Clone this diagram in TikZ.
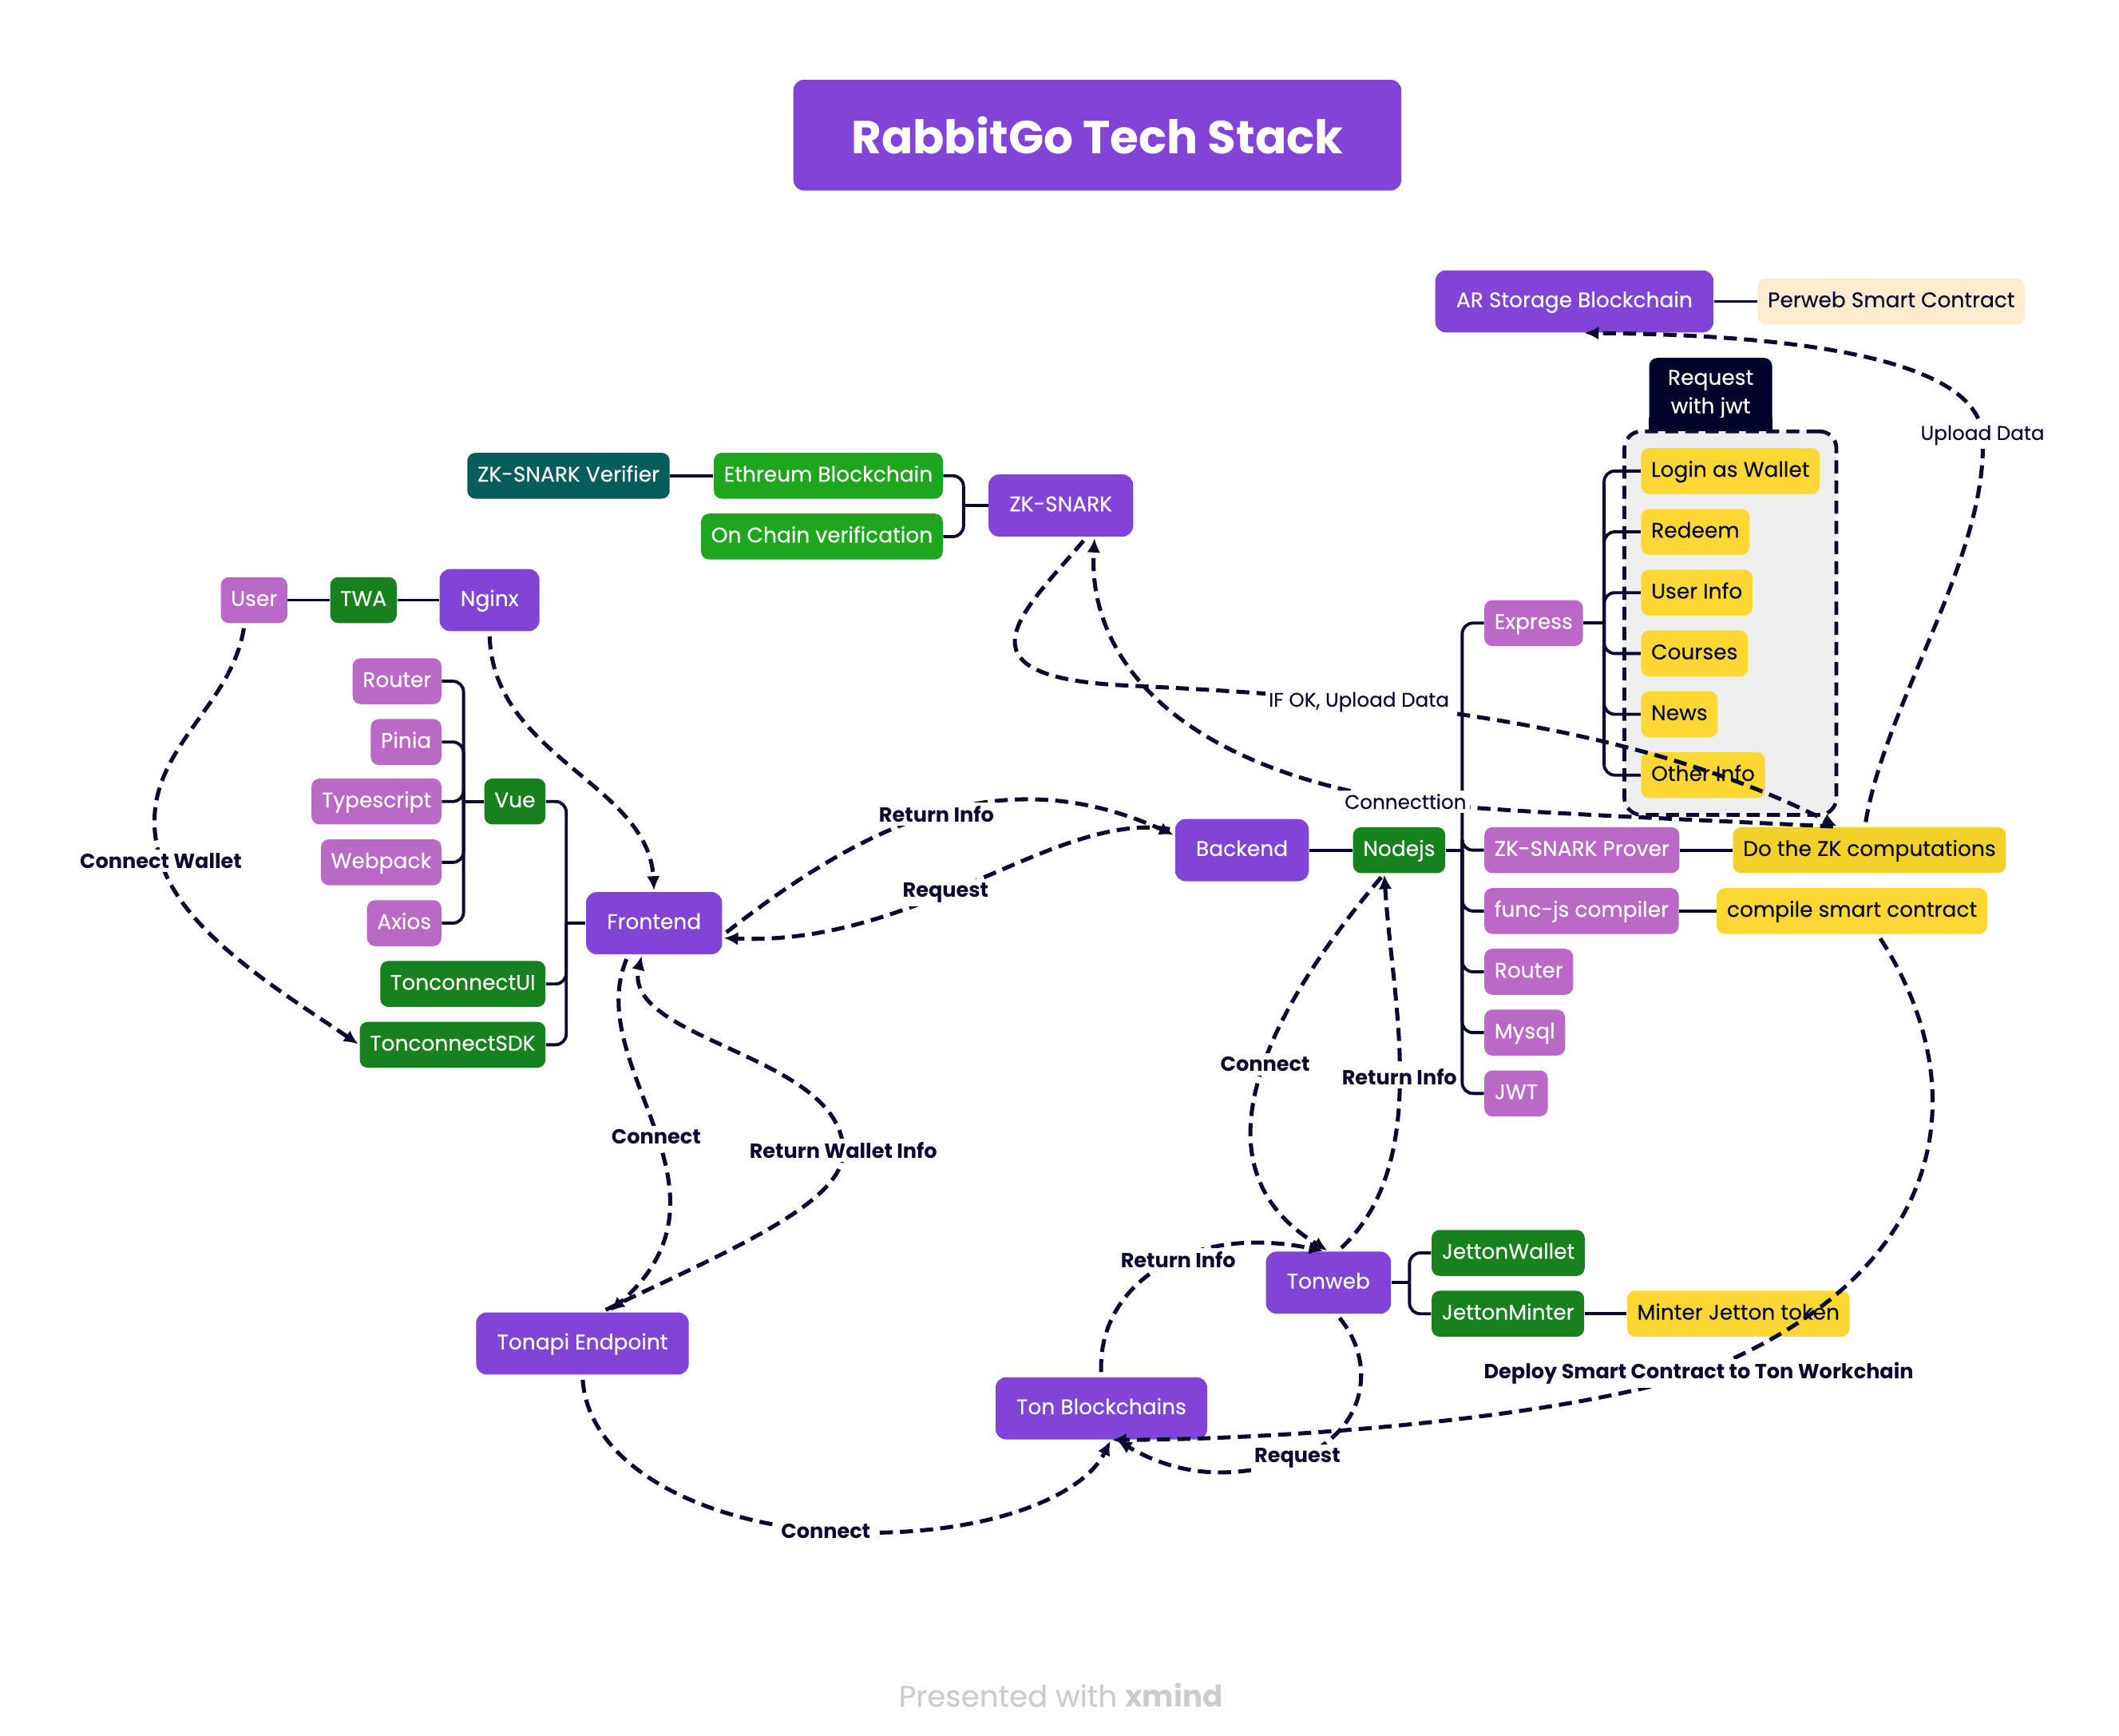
\documentclass[tikz,border=0pt]{standalone}
\usepackage{fontspec}
\setmainfont{Poppins}[UprightFeatures={FakeBold=0.25}]
\usepackage{tikz}
\usetikzlibrary{arrows.meta,%
                positioning,%
                calc,%
                fit,%
                backgrounds}

\definecolor{Ink}{HTML}{0A0A2E}
\definecolor{TopicPurple}{HTML}{8244D6}
\definecolor{Lilac}{HTML}{BB69C7}
\definecolor{Leaf}{HTML}{17821D}
\definecolor{Lime}{HTML}{1EA71E}
\definecolor{Teal}{HTML}{055D5B}
\definecolor{Sun}{HTML}{FDD835}
\definecolor{Gold}{HTML}{F1D12A}
\definecolor{Peach}{HTML}{FFEBCD}
\definecolor{Night}{HTML}{000229}
\definecolor{Cloud}{HTML}{EEEEEE}
\definecolor{Smoke}{HTML}{CCCCCC}

\begin{document}
\begin{tikzpicture}[x=0.02cm, y=-0.02cm]
  \tikzstyle{every node} = [font=\fontsize{8.9}{12}\selectfont,
                            align=center]
\tikzset{BoxStyle/.style={rounded corners=3.4pt, minimum height=0.68cm,
                          inner xsep=0.15cm, inner ysep=0pt,
                          text height=6.5pt, text depth=1.6pt, text=white}}
\tikzset{MainStyle/.style={BoxStyle, fill=TopicPurple, minimum height=0.92cm,
                           inner xsep=0.31cm, rounded corners=4.5pt}}
\tikzset{LilacStyle/.style={BoxStyle, fill=Lilac}}
\tikzset{LeafStyle/.style={BoxStyle, fill=Leaf}}
\tikzset{LimeStyle/.style={BoxStyle, fill=Lime}}
\tikzset{TealStyle/.style={BoxStyle, fill=Teal}}
\tikzset{SunStyle/.style={BoxStyle, fill=Sun, text=Ink}}
\tikzset{GoldStyle/.style={BoxStyle, fill=Gold, text=Ink}}
\tikzset{PeachStyle/.style={BoxStyle, fill=Peach, text=Ink}}
\tikzset{TitleStyle/.style={fill=TopicPurple, text=white, rounded corners=4.5pt,
                            minimum width=9cm, minimum height=1.64cm,
                            font=\fontsize{19.5}{23}\selectfont\bfseries}}
\tikzset{JwtStyle/.style={fill=Night, text=white, rounded corners=3.4pt,
                          minimum width=1.82cm, minimum height=1.08cm, inner sep=0pt}}
\tikzset{BoundStyle/.style={draw=Ink, fill=Cloud, line width=1.6pt,
                            dash pattern=on 5.5pt off 3pt,
                            rounded corners=0.25cm, inner sep=0.24cm}}
\tikzset{EdgeStyle/.style={draw=Ink, line width=1.3pt}}
\tikzset{BusStyle/.style={EdgeStyle, rounded corners=4.5pt}}
\tikzset{RelStyle/.style={draw=Ink, line width=1.7pt, dash pattern=on 5.5pt off 3pt,
                          -{Latex[length=6pt,width=5.6pt]},
                          shorten <=2pt, shorten >=0.5pt}}
\tikzset{LabelStyle/.style={fill=white, text=Ink, inner sep=1.5pt,
                            font=\fontsize{8.6}{10}\selectfont\bfseries}}
\tikzset{ThinStyle/.style={LabelStyle, font=\fontsize{8.3}{10}\selectfont}}

\useasboundingbox (0,0) rectangle (1568,1284);

\node[TitleStyle] (Title) at (812,100) {RabbitGo Tech Stack};

\node[MainStyle] (ArStorage) at (1165,223) {AR Storage Blockchain};
\node[PeachStyle, right=0.64cm of ArStorage] (Perweb) {Perweb Smart Contract};

\node[MainStyle] (ZkSnark) at (785,374) {ZK-SNARK};
\node[LimeStyle, anchor=east] (Ethreum) at (698,352) {Ethreum Blockchain};
\node[LimeStyle, anchor=east] (OnChain) at (698,397) {On Chain verification};
\node[TealStyle, left=0.64cm of Ethreum] (Verifier) {ZK-SNARK Verifier};

\node[LilacStyle] (User) at (188,444) {User};
\node[LeafStyle, right=0.62cm of User] (Twa) {TWA};
\node[MainStyle, right=0.62cm of Twa] (Nginx) {Nginx};

\node[LilacStyle, anchor=east] (RouterA) at (327,504) {Router};
\node[LilacStyle, anchor=east] (Pinia) at (327,549) {Pinia};
\node[LilacStyle, anchor=east] (Typescript) at (327,593) {Typescript};
\node[LilacStyle, anchor=east] (Webpack) at (327,638) {Webpack};
\node[LilacStyle, anchor=east] (Axios) at (327,683) {Axios};
\node[LeafStyle, anchor=east] (Vue) at (404,593) {Vue};
\node[LeafStyle, anchor=east] (TonUi) at (404,728) {TonconnectUI};
\node[LeafStyle, anchor=east] (TonSdk) at (404,773) {TonconnectSDK};
\node[MainStyle] (Frontend) at (484,683) {Frontend};

\node[MainStyle] (Backend) at (919,629) {Backend};
\node[LeafStyle, right=0.64cm of Backend] (Nodejs) {Nodejs};
\node[LilacStyle, anchor=west] (Express) at (1098,461) {Express};
\node[LilacStyle, anchor=west] (Prover) at (1098,629) {ZK-SNARK Prover};
\node[LilacStyle, anchor=west] (FuncJs) at (1098,674) {func-js compiler};
\node[LilacStyle, anchor=west] (RouterB) at (1098,719) {Router};
\node[LilacStyle, anchor=west] (Mysql) at (1098,764) {Mysql};
\node[LilacStyle, anchor=west] (Jwt) at (1098,809) {JWT};
\node[GoldStyle, anchor=west] (DoZk) at (1282,629) {Do the ZK computations};
\node[SunStyle, anchor=west] (Compile) at (1270,674) {compile smart contract};

\node[SunStyle, anchor=west] (Login) at (1214,348.5) {Login as Wallet};
\node[SunStyle, anchor=west] (Redeem) at (1214,393.5) {Redeem};
\node[SunStyle, anchor=west] (UserInfo) at (1214,438.5) {User Info};
\node[SunStyle, anchor=west] (Courses) at (1214,483.5) {Courses};
\node[SunStyle, anchor=west] (News) at (1214,528.5) {News};
\node[SunStyle, anchor=west] (Other) at (1214,573.5) {Other Info};

\node[MainStyle] (Tonweb) at (983,949) {Tonweb};
\node[LeafStyle, anchor=west] (JettonWallet) at (1059,927) {JettonWallet};
\node[LeafStyle, anchor=west] (JettonMinter) at (1059,972) {JettonMinter};
\node[SunStyle, right=0.62cm of JettonMinter] (MinterToken) {Minter Jetton token};

\node[MainStyle] (Tonapi) at (431,994) {Tonapi Endpoint};
\node[MainStyle] (TonChain) at (815,1042) {Ton Blockchains};

\node[text=Smoke, font=\fontsize{12.5}{14}\selectfont] (Footer) at (785,1254) {Presented with \textbf{xmind}};

\begin{pgfonlayer}{background}
  \node[JwtStyle, anchor=south west] (JwtTab) at ([xshift=0.12cm, yshift=0.24cm]Login.north west) {Request\\with jwt};
  \fill[Night] (JwtTab.south west) rectangle ([yshift=0.2cm]JwtTab.south east);
  \node[BoundStyle, fit=(Login)(Other)] (Bound) {};
\end{pgfonlayer}

\draw[EdgeStyle] (ArStorage) -- (Perweb);
\draw[EdgeStyle] (Verifier) -- (Ethreum);
\draw[EdgeStyle] (User) -- (Twa);
\draw[EdgeStyle] (Twa) -- (Nginx);
\draw[EdgeStyle] (Backend) -- (Nodejs);
\draw[EdgeStyle] (Prover) -- (DoZk);
\draw[EdgeStyle] (FuncJs) -- (Compile);
\draw[EdgeStyle] (JettonMinter) -- (MinterToken);

\coordinate (ZkBus) at ($(Ethreum.east |- ZkSnark.west)+(15,0)$);
\draw[EdgeStyle] (ZkSnark.west) -- (ZkBus);
\draw[BusStyle] (ZkBus) |- (Ethreum.east);
\draw[BusStyle] (ZkBus) |- (OnChain.east);

\coordinate (VueBus) at ($(RouterA.east |- Vue.west)+(16,0)$);
\draw[EdgeStyle] (Vue.west) -- (VueBus);
\draw[BusStyle] (VueBus) |- (RouterA.east);
\draw[BusStyle] (VueBus) |- (Pinia.east);
\draw[BusStyle] (VueBus) |- (Typescript.east);
\draw[BusStyle] (VueBus) |- (Webpack.east);
\draw[BusStyle] (VueBus) |- (Axios.east);

\coordinate (FrontBus) at ($(Vue.east |- Frontend.west)+(15,0)$);
\draw[EdgeStyle] (Frontend.west) -- (FrontBus);
\draw[BusStyle] (FrontBus) |- (Vue.east);
\draw[BusStyle] (FrontBus) |- (TonUi.east);
\draw[BusStyle] (FrontBus) |- (TonSdk.east);

\coordinate (NodeBus) at ($(Prover.west |- Nodejs.east)+(-16,0)$);
\draw[EdgeStyle] (Nodejs.east) -- (NodeBus);
\draw[BusStyle] (NodeBus) |- (Express.west);
\draw[BusStyle] (NodeBus) |- (Prover.west);
\draw[BusStyle] (NodeBus) |- (FuncJs.west);
\draw[BusStyle] (NodeBus) |- (RouterB.west);
\draw[BusStyle] (NodeBus) |- (Mysql.west);
\draw[BusStyle] (NodeBus) |- (Jwt.west);

\coordinate (ExpBus) at ($(Login.west |- Express.east)+(-27,0)$);
\draw[EdgeStyle] (Express.east) -- (ExpBus);
\draw[BusStyle] (ExpBus) |- (Login.west);
\draw[BusStyle] (ExpBus) |- (Redeem.west);
\draw[BusStyle] (ExpBus) |- (UserInfo.west);
\draw[BusStyle] (ExpBus) |- (Courses.west);
\draw[BusStyle] (ExpBus) |- (News.west);
\draw[BusStyle] (ExpBus) |- (Other.west);

\coordinate (WebBus) at ($(JettonWallet.west |- Tonweb.east)+(-16,0)$);
\draw[EdgeStyle] (Tonweb.east) -- (WebBus);
\draw[BusStyle] (WebBus) |- (JettonWallet.west);
\draw[BusStyle] (WebBus) |- (JettonMinter.west);

\draw[RelStyle] ([xshift=-0.14cm]User.south) .. controls (170,530) and (95,560) .. (119,637)
  node[LabelStyle] {Connect Wallet} .. controls (135,690) and (210,735) .. (TonSdk.west);
\draw[RelStyle] (Nginx.south) .. controls (365,560) and (480,580) .. (Frontend.north);
\draw[RelStyle] ([yshift=-0.18cm]Frontend.east) .. controls (640,610) and (740,560) .. ([yshift=0.22cm]Backend.west)
  node[LabelStyle, pos=0.5] {Return Info};
\draw[RelStyle] ([yshift=0.3cm]Backend.west) .. controls (780,600) and (680,700) .. ([yshift=-0.22cm]Frontend.east)
  node[LabelStyle, pos=0.57] {Request};
\draw[RelStyle] ([xshift=0.38cm]ZkSnark.south) .. controls (760,450) and (700,500) .. (830,507)
  .. controls (1000,515) and (1200,530) .. ([xshift=1.56cm]DoZk.north west)
  node[ThinStyle, pos=0.33] {IF OK, Upload Data};
\draw[RelStyle] ([xshift=1.56cm]DoZk.north west) .. controls (1200,604) and (1100,600) .. (1040,593)
  node[ThinStyle] {Connecttion} .. controls (860,565) and (805,480) .. ([xshift=0.5cm]ZkSnark.south);
\draw[RelStyle] ([xshift=1.96cm]DoZk.north west) .. controls (1395,520) and (1472,410) .. (1467,322)
  node[ThinStyle] {Upload Data} .. controls (1463,270) and (1350,248) .. ([xshift=0.13cm]ArStorage.south);
\draw[RelStyle] ([xshift=-0.22cm]Nodejs.south) .. controls (945,740) and (875,860) .. (Tonweb.north)
  node[LabelStyle, pos=0.47] {Connect};
\draw[RelStyle] ([xshift=0.14cm]Tonweb.north) .. controls (1060,860) and (1030,740) .. ([xshift=-0.22cm]Nodejs.south)
  node[LabelStyle, pos=0.5] {Return Info};
\draw[RelStyle] (TonChain.north) .. controls (812,950) and (880,905) .. ([xshift=-0.06cm]Tonweb.north)
  node[LabelStyle, pos=0.57] {Return Info};
\draw[RelStyle] ([xshift=0.12cm]Tonweb.south) .. controls (1020,1010) and (1010,1060) .. (960,1079)
  node[LabelStyle] {Request} .. controls (900,1100) and (860,1085) .. ([xshift=0.22cm]TonChain.south);
\draw[RelStyle] ([xshift=-0.38cm]Frontend.south) .. controls (430,790) and (555,880) .. ([xshift=0.4cm]Tonapi.north)
  node[LabelStyle, pos=0.52] {Connect};
\draw[RelStyle] ([xshift=0.28cm]Tonapi.north) .. controls (540,925) and (625,890) .. (624,851)
  node[LabelStyle] {Return Wallet Info} .. controls (622,780) and (460,770) .. ([xshift=-0.18cm]Frontend.south);
\draw[RelStyle] (Tonapi.south) .. controls (435,1080) and (510,1125) .. (611,1133)
  node[LabelStyle] {Connect} .. controls (720,1140) and (800,1110) .. ([xshift=0.14cm]TonChain.south);
\draw[RelStyle] ([xshift=0.38cm]Compile.south) .. controls (1460,800) and (1450,940) .. (1257,1016)
  node[LabelStyle] {Deploy Smart Contract to Ton Workchain} .. controls (1150,1050) and (950,1065) .. ([xshift=0.14cm]TonChain.south);

\end{tikzpicture}
\end{document}
